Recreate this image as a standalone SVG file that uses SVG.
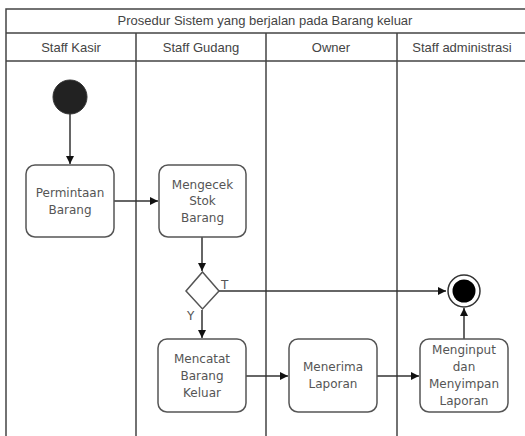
<svg xmlns="http://www.w3.org/2000/svg" width="525" height="436" viewBox="0 0 525 436">
<defs>
<marker id="ah" markerWidth="10" markerHeight="10" refX="9" refY="5" orient="auto" markerUnits="userSpaceOnUse">
<path d="M1,1 L9,5 L1,9 Z" fill="#111"/>
</marker>
<style>
.frame{fill:none;stroke:#444;stroke-width:1.5}
.hdr{font-family:"Liberation Sans",Arial,sans-serif;font-size:13px;fill:#444;text-anchor:middle}
.box{fill:#fff;stroke:#555;stroke-width:1.5}
.lbl{font-family:"DejaVu Sans",Verdana,sans-serif;font-size:12px;fill:#555;text-anchor:middle}
.edge{fill:none;stroke:#333;stroke-width:1.5;marker-end:url(#ah)}
.gl{font-family:"DejaVu Sans",sans-serif;font-size:12px;fill:#555}
</style>
</defs>
<rect width="525" height="436" fill="#fff"/>
<g id="pool">
<path class="frame" d="M6,440 V9 H530 M6,33 H530 M6,61 H530 M136,33 V440 M266,33 V440 M397,33 V440"/>
<text class="hdr" x="265" y="25">Prosedur Sistem yang berjalan pada Barang keluar</text>
<text class="hdr" x="71" y="52">Staff Kasir</text>
<text class="hdr" x="201" y="52">Staff Gudang</text>
<text class="hdr" x="331" y="52">Owner</text>
<text class="hdr" x="462" y="52">Staff administrasi</text>
</g>
<g id="connectors">
<path class="edge" d="M70,114 V164"/>
<path class="edge" d="M114,201 H158"/>
<path class="edge" d="M202,237 V271"/>
<path class="edge" d="M219,291 H446"/>
<path class="edge" d="M202,310 V338"/>
<path class="edge" d="M246,376 H288"/>
<path class="edge" d="M377,376 H419"/>
<path class="edge" d="M464,339 V308"/>
<text class="gl" x="221" y="289">T</text>
<text class="gl" x="187" y="320">Y</text>
</g>
<g id="start"><circle cx="70" cy="97" r="17" fill="#222" stroke="#333" stroke-width="1"/></g>
<g id="permintaan">
<rect class="box" x="26" y="165" width="88" height="72" rx="9"/>
<text class="lbl" x="70" y="197">Permintaan</text>
<text class="lbl" x="70" y="214">Barang</text>
</g>
<g id="mengecek">
<rect class="box" x="159" y="165" width="87" height="72" rx="9"/>
<text class="lbl" x="202.5" y="189">Mengecek</text>
<text class="lbl" x="202.5" y="205">Stok</text>
<text class="lbl" x="202.5" y="222">Barang</text>
</g>
<g id="decision"><path class="box" d="M202.5,272 L219,291 L202.5,309 L186,291 Z"/></g>
<g id="end">
<circle cx="464" cy="291" r="16" fill="#fff" stroke="#333" stroke-width="1.5"/>
<circle cx="464" cy="291" r="11.5" fill="#000"/>
</g>
<g id="mencatat">
<rect class="box" x="158" y="339" width="88" height="73" rx="9"/>
<text class="lbl" x="202" y="363">Mencatat</text>
<text class="lbl" x="202" y="380">Barang</text>
<text class="lbl" x="202" y="397">Keluar</text>
</g>
<g id="menerima">
<rect class="box" x="289" y="339" width="88" height="73" rx="9"/>
<text class="lbl" x="333" y="371">Menerima</text>
<text class="lbl" x="333" y="388">Laporan</text>
</g>
<g id="menginput">
<rect class="box" x="420" y="339" width="88" height="73" rx="9"/>
<text class="lbl" x="464" y="354">Menginput</text>
<text class="lbl" x="464" y="371">dan</text>
<text class="lbl" x="464" y="388">Menyimpan</text>
<text class="lbl" x="464" y="405">Laporan</text>
</g>
</svg>
